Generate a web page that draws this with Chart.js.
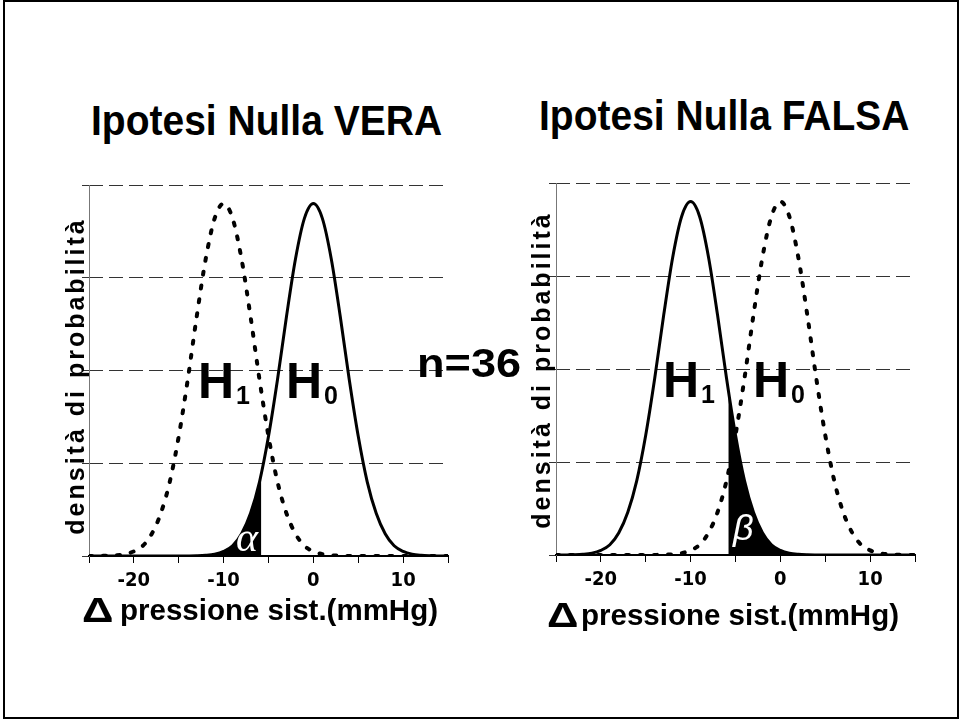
<!DOCTYPE html>
<html>
<head>
<meta charset="UTF-8">
<title>Ipotesi Nulla VERA / FALSA</title>
<script src="https://cdn.jsdelivr.net/npm/chart.js@4.4.0/dist/chart.umd.min.js"></script>
<style>
  body { margin: 0; background: #fff; font-family: "Liberation Sans", Arial, sans-serif; }
  #page { position: relative; width: 960px; height: 719px; overflow: hidden; }
  #frame { position: absolute; left: 3px; top: 0; width: 952px; height: 715px; border: 2px solid #000; }
  canvas { position: absolute; }
  .txt { position: absolute; font-weight: bold; line-height: 1; white-space: nowrap; color: #000; z-index: 2; }
  .title { font-size: 39px; transform: scaleY(1.075); transform-origin: 0 33px; }
  .nlab { font-size: 41px; transform: scaleX(1.1); transform-origin: 0 0; }
  .hlab { font-size: 50px; }
  .hlab span { font-size: 25px; position: relative; top: 6px; margin-left: 2px; }
  .delta { font-size: 35px; transform: scaleX(1.25); transform-origin: 0 0; }
  .xtitle { font-size: 29.5px; }
  .ytitle { font-size: 25px; letter-spacing: 3px; width: 360px; text-align: center; line-height: 26px; transform: rotate(-90deg); }
  .greek { color: #fff; font-weight: normal; font-style: italic; }
</style>
</head>
<body>
<div id="page">
  <div id="frame"></div>

  <canvas id="left" width="420" height="430" style="left:40px; top:170px;"></canvas>
  <canvas id="right" width="420" height="431" style="left:507px; top:168px;"></canvas>

  <div class="txt title" style="left:91px; top:102px;">Ipotesi Nulla VERA</div>
  <div class="txt title" style="left:539px; top:97px;">Ipotesi Nulla FALSA</div>

  <div class="txt nlab" style="left:417px; top:343px;">n=36</div>

  <div class="txt hlab" style="left:198px; top:356px;">H<span>1</span></div>
  <div class="txt hlab" style="left:286px; top:356px;">H<span>0</span></div>
  <div class="txt hlab" style="left:663px; top:355px;">H<span>1</span></div>
  <div class="txt hlab" style="left:753px; top:355px;">H<span>0</span></div>

  <div class="txt ytitle" style="left:-105px; top:363px;">densità di probabilità</div>
  <div class="txt ytitle" style="left:361px; top:357px;">densità di probabilità</div>

  <div class="txt delta" style="left:82px; top:592px;">Δ</div>
  <div class="txt xtitle" style="left:120px; top:595px;">pressione sist.(mmHg)</div>
  <div class="txt delta" style="left:547px; top:597px;">Δ</div>
  <div class="txt xtitle" style="left:581px; top:600px;">pressione sist.(mmHg)</div>

  <div class="txt greek" style="left:236px; top:516px; font-family:'Liberation Serif', 'DejaVu Serif', serif; font-size:42px;">α</div>
  <div class="txt greek" style="left:733px; top:510px; font-size:36px;">β</div>
</div>

<script>
// Δ pressione (mmHg), one point per mmHg
const xVals = [-25, -24, -23, -22, -21, -20, -19, -18, -17, -16, -15, -14, -13, -12, -11, -10, -9, -8, -7, -6, -5,
               -4, -3, -2, -1, 0, 1, 2, 3, 4, 5, 6, 7, 8, 9, 10, 11, 12, 13, 14, 15];

// densità sotto H0 (media 0)
const h0 = [0, 0, 0, 0, 0, 0, 0, 0, 0, 0, 0, 0.001, 0.003, 0.008, 0.02, 0.05, 0.11, 0.24, 0.46, 0.80, 1.29,
            1.90, 2.58, 3.20, 3.64, 3.80, 3.64, 3.20, 2.58, 1.90, 1.29, 0.80, 0.46, 0.24, 0.11, 0.05, 0.02, 0.008, 0.003, 0.001, 0];

// densità sotto H1 (media -10)
const h1 = [0, 0.001, 0.003, 0.008, 0.02, 0.05, 0.11, 0.24, 0.46, 0.80, 1.29, 1.90, 2.58, 3.20, 3.64, 3.80, 3.64, 3.20, 2.58, 1.90, 1.29,
            0.80, 0.46, 0.24, 0.11, 0.05, 0.02, 0.008, 0.003, 0.001, 0, 0, 0, 0, 0, 0, 0, 0, 0, 0, 0];

// valore critico e altezza delle curve in quel punto
const critX = -5.8;
const h0AtCrit = 0.89;
const h1AtCrit = 1.77;

const xTickLabels = [-20, -10, 0, 10];
const yGridLevels = [0, 1, 2, 3, 4];

function pts(ys) {
  return xVals.map((x, i) => ({ x: x, y: ys[i] }));
}

// alpha: coda di H0 a sinistra del valore critico
const alphaPts = pts(h0).filter(p => p.x < critX).concat([{ x: critX, y: h0AtCrit }]);
// beta: parte di H1 a destra del valore critico
const betaPts = [{ x: critX, y: h1AtCrit }].concat(pts(h1).filter(p => p.x > critX));

const tickFont = { family: "'Liberation Sans Narrow', 'DejaVu Sans Condensed', sans-serif", size: 20, weight: 'bold' };

function makeChart(id, solid, dotted, shaded) {
  return new Chart(document.getElementById(id), {
    type: 'line',
    data: {
      datasets: [
        { data: solid, borderColor: '#000', borderWidth: 3, pointRadius: 0, fill: false,
          cubicInterpolationMode: 'monotone' },
        { data: dotted, borderColor: '#000', borderWidth: 4, borderDash: [3, 11], borderCapStyle: 'round',
          pointRadius: 0, fill: false, cubicInterpolationMode: 'monotone' },
        { data: shaded, borderColor: '#000', borderWidth: 1, backgroundColor: '#000', pointRadius: 0,
          fill: 'origin', cubicInterpolationMode: 'monotone' }
      ]
    },
    options: {
      responsive: false,
      animation: false,
      events: [],
      layout: { padding: { top: 15, right: 12, left: 0, bottom: 0 } },
      plugins: { legend: { display: false }, tooltip: { enabled: false } },
      scales: {
        x: {
          type: 'linear',
          min: -25,
          max: 15,
          afterFit: s => { s.height = 44; },
          grid: { drawOnChartArea: false, drawTicks: true, tickLength: 7, tickColor: '#000', tickWidth: 1 },
          border: { color: '#000', width: 2 },
          ticks: {
            stepSize: 5,
            padding: 6,
            maxRotation: 0,
            autoSkip: false,
            color: '#000',
            font: tickFont,
            callback: v => xTickLabels.includes(v) ? String(v) : ''
          }
        },
        // dashed density grid; its own border is hidden
        y: {
          position: 'left',
          weight: 1,
          min: yGridLevels[0],
          max: yGridLevels[yGridLevels.length - 1],
          afterFit: s => { s.width = 49; },
          grid: { color: '#333', lineWidth: 1, drawTicks: true, tickLength: 7, tickColor: '#333' },
          border: { display: false, dash: [14, 6] },
          ticks: { stepSize: 1, display: false }
        },
        // solid grey vertical axis line
        yLine: {
          position: 'left',
          weight: 0,
          min: yGridLevels[0],
          max: yGridLevels[yGridLevels.length - 1],
          afterFit: s => { s.width = 0; },
          grid: { display: false },
          border: { display: true, color: '#777', width: 1 },
          ticks: { display: false }
        }
      }
    }
  });
}

makeChart('left', pts(h0), pts(h1), alphaPts);
makeChart('right', pts(h1), pts(h0), betaPts);
</script>
</body>
</html>
